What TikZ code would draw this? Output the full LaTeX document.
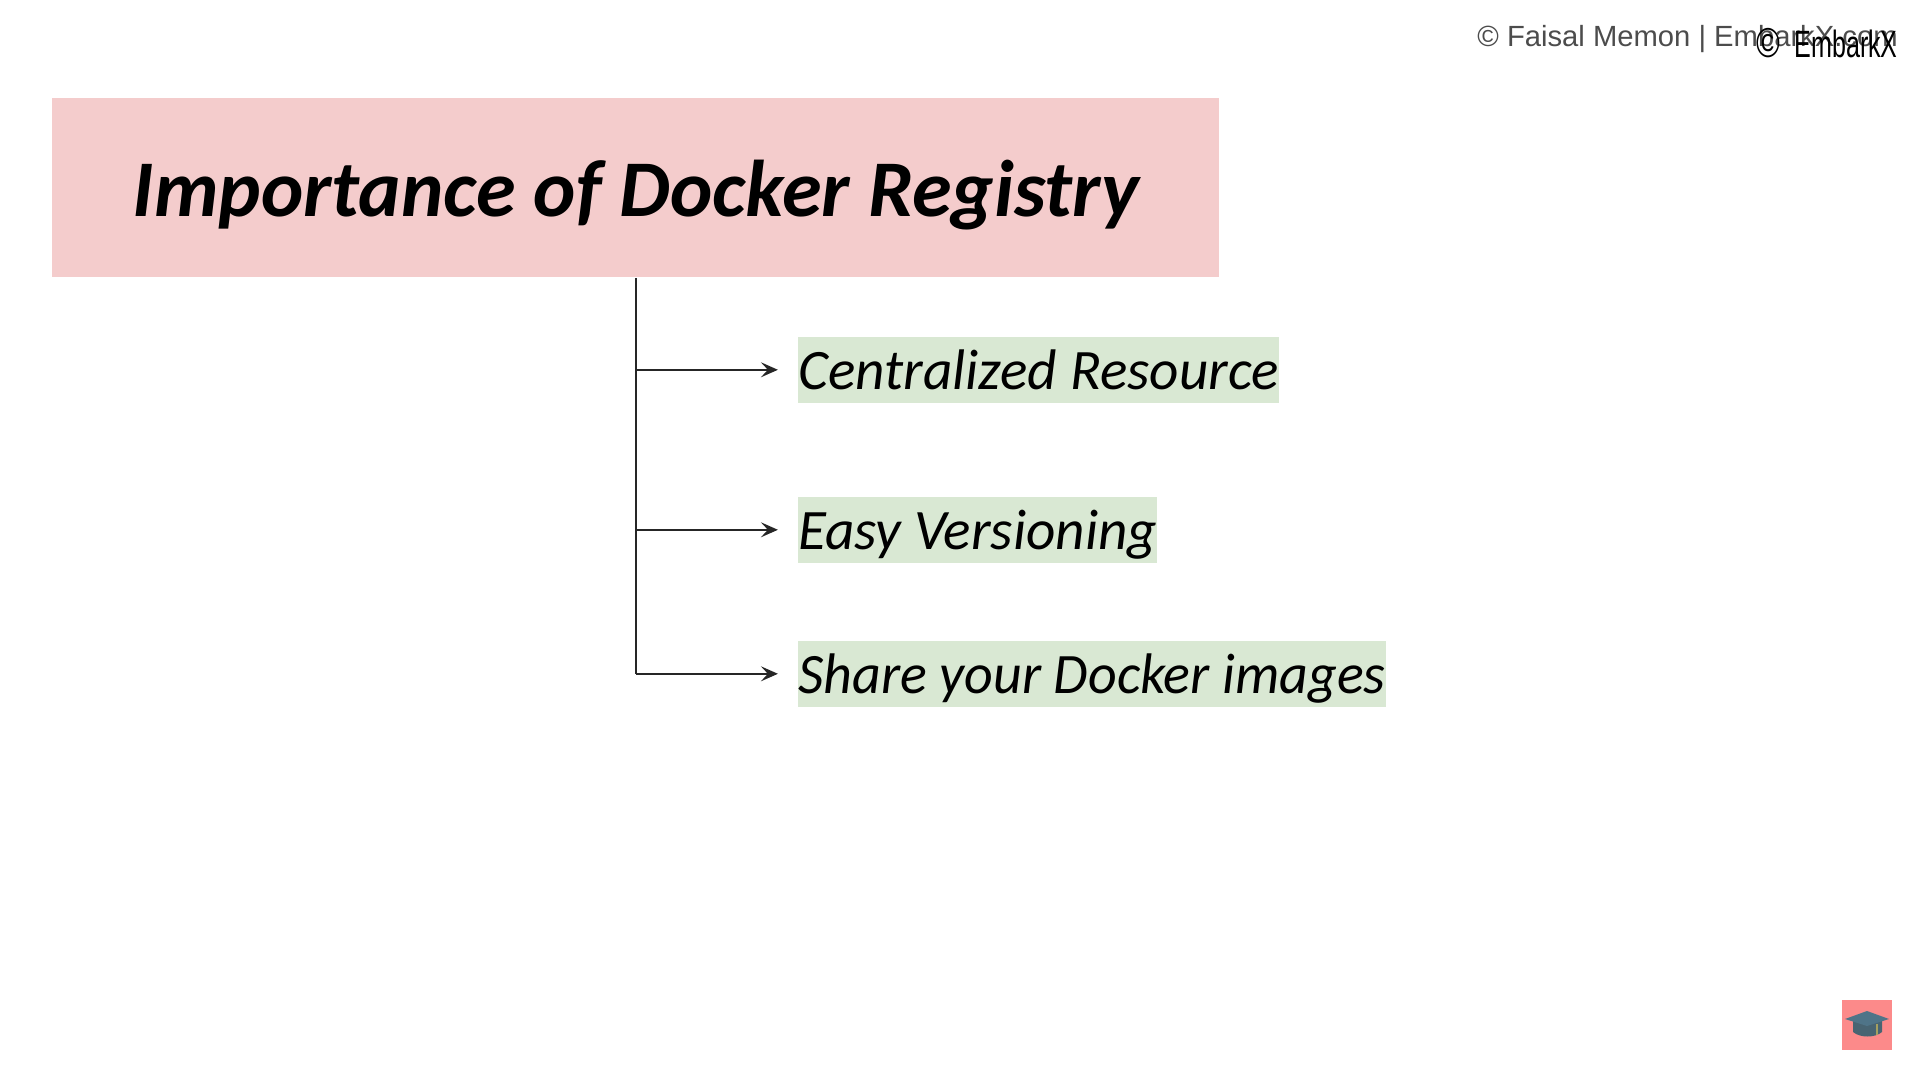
\documentclass[tikz,border=0pt]{standalone}
\usepackage{fontspec}
\setmainfont{Carlito}
\newfontfamily\markfont{Liberation Sans}
\usepackage{xcolor}
\usetikzlibrary{arrows.meta,positioning}
\definecolor{titlepink}{HTML}{F4CCCC}
\definecolor{itemgreen}{HTML}{D9E8D3}
\definecolor{iconred}{HTML}{FC8A8A}
\definecolor{capblue}{HTML}{4F7488}
\definecolor{capdark}{HTML}{486472}
\definecolor{tassel}{HTML}{A5A060}

\begin{document}
\begin{tikzpicture}[
    x=0.5pt, y=-0.5pt,
    >={Stealth[length=8.5pt,width=7.5pt,inset=3.5pt]},
    titlebox/.style={fill=titlepink, minimum width=583.5pt, inner sep=0pt, text height=59pt, text depth=30.5pt,
        font=\fontsize{40.2}{48}\selectfont\bfseries\itshape},
    itembox/.style={fill=itemgreen, inner sep=0pt, text height=26.25pt, text depth=6.75pt,
        font=\fontsize{28.6}{34}\selectfont\itshape},
    link/.style={draw=black!85, line width=1pt},
    node distance=81pt
]
\useasboundingbox (0,0) rectangle (1920,1080);

\node[titlebox, anchor=north west] (title) at (52,98) {Importance of Docker Registry};

\coordinate[below=46pt of title] (branch_a);
\coordinate[below=80pt of branch_a] (branch_b);
\coordinate[below=72pt of branch_b] (branch_c);

\node[itembox, right=of branch_a] (central) {Centralized Resource};
\node[itembox, right=of branch_b] (version) {Easy Versioning};
\node[itembox, right=of branch_c] (share) {\scalebox{0.978}[1]{Share your Docker images}};

\draw[link] (title.south) -- (branch_c);
\draw[link, ->, shorten >=10pt] (branch_a) -- (central);
\draw[link, ->, shorten >=10pt] (branch_b) -- (version);
\draw[link, ->, shorten >=10pt] (branch_c) -- (share);

% watermarks
\node[anchor=east, inner sep=0pt, text=black!70, font=\fontsize{14.6}{17}\selectfont\markfont] (credit) at (1898,39) {© Faisal Memon | EmbarkX.com};
\node[anchor=east, inner sep=0pt, font=\fontsize{19}{22}\selectfont\markfont] (mark) at (1898,43) {\scalebox{0.85}[1.1]{©}\hspace{7pt}\scalebox{0.66}[1]{EmbarkX}};

% icon
\node[fill=iconred, minimum size=25pt, inner sep=0pt, anchor=north west] (icon) at (1842,1000) {};
\fill[capdark] (1853,1020) -- (1853,1032) .. controls (1860,1038) and (1875,1038) .. (1882,1032) -- (1882,1020) -- cycle;
\fill[capblue] (1845,1019) -- (1867,1011) -- (1889,1019) -- (1867,1026) -- cycle;
\draw[tassel, line width=1pt] (1877,1024) -- (1877,1035);
\end{tikzpicture}
\end{document}
